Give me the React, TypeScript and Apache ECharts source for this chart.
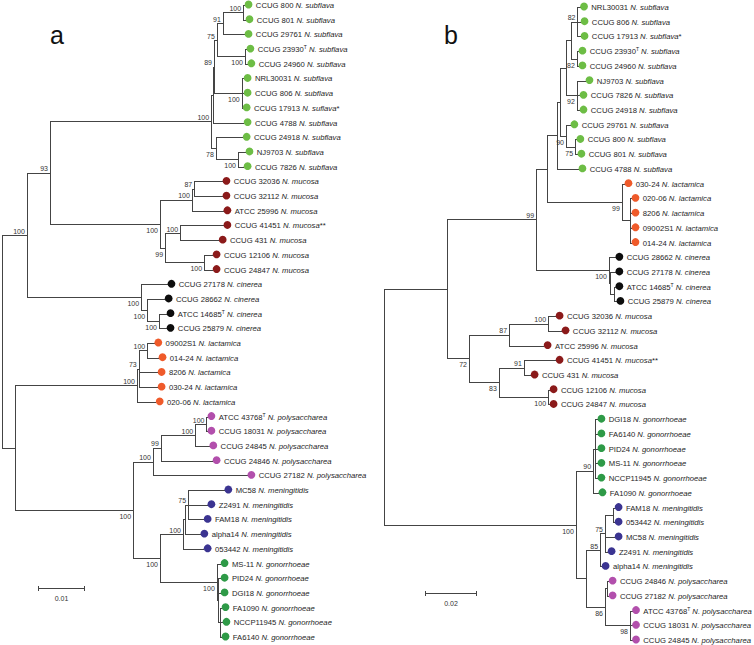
import { useEffect, useRef } from 'react';
import * as echarts from 'echarts';

// Branch depths are cumulative distances from the root, in substitutions per site x 10^-3
// (so the 0.01 scale bar of tree a has length 10, the 0.02 bar of tree b has length 20).
type Leaf = { kind: 'leaf'; strain: string; sp: string; d: number; typeStrain?: boolean; suffix?: string; spText?: string };
type Node = { kind: 'node'; d: number; s: string; below: boolean; c: Tree[] };
type Tree = Leaf | Node;

const L = (strain: string, sp: string, d: number, opts: Partial<Leaf> = {}): Leaf => ({ kind: 'leaf', strain, sp, d, ...opts });
const N = (d: number, s: string, below: boolean, ...c: Tree[]): Node => ({ kind: 'node', d, s, below, c });

const speciesColors: Record<string, string> = {
  subflava: '#6dbd45',
  mucosa: '#8b1a1a',
  cinerea: '#0d0d0d',
  lactamica: '#ef5a2a',
  polysaccharea: '#b24fac',
  meningitidis: '#3b3491',
  gonorrhoeae: '#2e9a47',
};

// ---------- Tree a ----------
const subflavaA = N(44.5, '100', false,
  N(44.9, '', false,
    N(45.1, '89', false,
      N(45.7, '75', false,
        N(47.0, '91', false,
          N(51.3, '100', false, L('CCUG 800', 'subflava', 51.5), L('CCUG 801', 'subflava', 51.7)),
          L('CCUG 29761', 'subflava', 51.5)),
        N(51.7, '100', true, L('CCUG 23930', 'subflava', 51.9, { typeStrain: true }), L('CCUG 24960', 'subflava', 52.1))),
      N(51.0, '100', true, L('NRL30031', 'subflava', 51.3), L('CCUG 806', 'subflava', 51.3), L('CCUG 17913', 'subflava', 51.1, { spText: 'suflava', suffix: '*' }))),
    L('CCUG 4788', 'subflava', 51.3)),
  N(45.5, '78', true, L('CCUG 24918', 'subflava', 51.1),
    N(50.2, '100', true, L('NJ9703', 'subflava', 51.7), L('CCUG 7826', 'subflava', 51.3))));

const mucosaA = N(33.6, '100', true,
  N(40.4, '100', false,
    N(40.9, '87', false, L('CCUG 32036', 'mucosa', 46.8), L('CCUG 32112', 'mucosa', 46.8)),
    L('ATCC 25996', 'mucosa', 47.0)),
  N(34.7, '99', true,
    N(37.9, '100', false, L('CCUG 41451', 'mucosa', 47.0, { suffix: '**' }), L('CCUG 431', 'mucosa', 46.0)),
    N(43.0, '100', true, L('CCUG 12106', 'mucosa', 44.7), L('CCUG 24847', 'mucosa', 44.7))));

const cinereaA = N(29.6, '100', true,
  L('CCUG 27178', 'cinerea', 35.1),
  N(30.9, '100', true, L('CCUG 28662', 'cinerea', 34.5),
    N(33.4, '100', true, L('ATCC 14685', 'cinerea', 34.9, { typeStrain: true }), L('CCUG 25879', 'cinerea', 34.9))));

const lactamicaA = N(28.7, '100', false,
  N(29.1, '73', false,
    N(30.9, '100', false, L('09002S1', 'lactamica', 32.3), L('014-24', 'lactamica', 33.2)),
    L('8206', 'lactamica', 33.0),
    L('030-24', 'lactamica', 33.0)),
  L('020-06', 'lactamica', 32.6));

const polysacchareaA = N(32.1, '100', false,
  N(33.8, '99', false,
    N(41.1, '100', false,
      N(43.5, '100', false, L('ATCC 43768', 'polysaccharea', 43.6, { typeStrain: true }), L('CCUG 18031', 'polysaccharea', 43.6)),
      L('CCUG 24845', 'polysaccharea', 44.0)),
    L('CCUG 24846', 'polysaccharea', 44.7)),
  L('CCUG 27182', 'polysaccharea', 52.1));

const meningitidisA = N(38.5, '100', false,
  N(38.9, '', false,
    N(39.6, '75', false, L('MC58', 'meningitidis', 47.2), L('Z2491', 'meningitidis', 43.6), L('FAM18', 'meningitidis', 42.8)),
    L('alpha14', 'meningitidis', 42.1)),
  L('053442', 'meningitidis', 42.8));

const gonorrhoeaeA = N(45.7, '100', true,
  L('MS-11', 'gonorrhoeae', 46.4),
  N(46.0, '', false, L('PID24', 'gonorrhoeae', 46.4), L('DGI18', 'gonorrhoeae', 46.4),
    N(46.3, '', false, L('FA1090', 'gonorrhoeae', 46.6), L('NCCP11945', 'gonorrhoeae', 46.8), L('FA6140', 'gonorrhoeae', 46.6))));

const treeA = N(0, '', false,
  N(5.3, '100', false, N(10.2, '93', false, subflavaA, mucosaA), cinereaA),
  N(2.8, '', false, lactamicaA, N(27.9, '100', true, polysacchareaA, N(33.6, '100', true, meningitidisA, gonorrhoeaeA))));

// ---------- Tree b ----------
const subflavaB = N(66.5, '', false,
  N(67.7, '', false,
    N(70.0, '', false,
      N(71.9, '', false,
        N(74.4, '82', false, L('NRL30031', 'subflava', 75.2), L('CCUG 806', 'subflava', 75.4), L('CCUG 17913', 'subflava', 75.4, { suffix: '*' })),
        N(74.2, '82', true, L('CCUG 23930', 'subflava', 74.6, { typeStrain: true }), L('CCUG 24960', 'subflava', 74.6))),
      N(74.2, '92', true, L('NJ9703', 'subflava', 77.3), L('CCUG 7826', 'subflava', 75.0), L('CCUG 24918', 'subflava', 75.0))),
    N(70.0, '90', true, L('CCUG 29761', 'subflava', 71.5),
      N(73.5, '75', true, L('CCUG 800', 'subflava', 73.8), L('CCUG 801', 'subflava', 74.2)))),
  L('CCUG 4788', 'subflava', 74.6));

const lactamicaB = N(91.5, '99', true, L('030-24', 'lactamica', 92.3),
  N(94.6, '', false, L('020-06', 'lactamica', 95.0), L('8206', 'lactamica', 95.0), L('09002S1', 'lactamica', 95.0), L('014-24', 'lactamica', 95.0)));

const cinereaB = N(86.5, '100', true, L('CCUG 28662', 'cinerea', 88.8),
  N(86.9, '', false, L('CCUG 27178', 'cinerea', 88.8),
    N(88.5, '', false, L('ATCC 14685', 'cinerea', 88.8, { typeStrain: true }), L('CCUG 25879', 'cinerea', 89.2))));

const mucosaB = N(32.7, '72', true,
  N(48.1, '87', false,
    N(63.1, '100', false, L('CCUG 32036', 'mucosa', 65.8), L('CCUG 32112', 'mucosa', 68.1)),
    L('ATCC 25996', 'mucosa', 61.2)),
  N(44.2, '83', true,
    N(53.8, '91', false, L('CCUG 41451', 'mucosa', 65.8, { suffix: '**' }), L('CCUG 431', 'mucosa', 56.2)),
    N(63.1, '100', true, L('CCUG 12106', 'mucosa', 63.5), L('CCUG 24847', 'mucosa', 63.5))));

const gonorrhoeaeB = N(80.4, '90', false,
  N(81.2, '', false, L('DGI18', 'gonorrhoeae', 81.9), L('FA6140', 'gonorrhoeae', 81.9), L('PID24', 'gonorrhoeae', 81.9),
    L('MS-11', 'gonorrhoeae', 81.9), L('NCCP11945', 'gonorrhoeae', 81.9)),
  L('FA1090', 'gonorrhoeae', 82.3));

const meningitidisB = N(83.1, '85', false,
  N(85.0, '75', false,
    N(88.1, '', false, L('FAM18', 'meningitidis', 88.5), L('053442', 'meningitidis', 88.5)),
    L('MC58', 'meningitidis', 88.5), L('Z2491', 'meningitidis', 85.8)),
  L('alpha14', 'meningitidis', 83.5));

const polysacchareaB = N(85.0, '86', true,
  N(85.8, '', false, L('CCUG 24846', 'polysaccharea', 86.2), L('CCUG 27182', 'polysaccharea', 86.2)),
  N(94.6, '98', true, L('ATCC 43768', 'polysaccharea', 95.2, { typeStrain: true }), L('CCUG 18031', 'polysaccharea', 95.2), L('CCUG 24845', 'polysaccharea', 95.2)));

const treeB = N(0, '', false,
  N(24.2, '', false, N(58.5, '99', false, N(62.7, '', false, subflavaB, lactamicaB), cinereaB), mucosaB),
  N(73.8, '100', true, gonorrhoeaeB, N(77.7, '', false, meningitidisB, polysacchareaB)));

const scaleBarLengths = [10, 20];
const scaleBarLabels = ['0.01', '0.02'];
const panelLetters = ['a', 'b'];

// ---------- layout ----------
type Out = { segs: number[][]; leaves: number[][]; leafInfo: Leaf[]; supports: (number | string)[][] };

function layout(t: Tree, parentD: number | null, out: Out): number {
  if (t.kind === 'leaf') {
    const y = out.leaves.length;
    out.leaves.push([t.d, y]);
    out.leafInfo.push(t);
    if (parentD !== null) out.segs.push([parentD, y, t.d, y]);
    return y;
  }
  const ys = t.c.map((ch) => layout(ch, t.d, out));
  const y = (ys[0] + ys[ys.length - 1]) / 2;
  out.segs.push([t.d, ys[0], t.d, ys[ys.length - 1]]);
  if (parentD !== null) out.segs.push([parentD, y, t.d, y]);
  if (t.s) out.supports.push([t.d, y, t.s, t.below ? 1 : 0]);
  return y;
}

const FONT = "'Liberation Sans', Arial, Helvetica, sans-serif";
const LEAF_FS = 7.7;
const snap = (v: number) => Math.round(v) + 0.5;

function labelText(l: Leaf): string {
  const t = l.typeStrain ? '{t|T}' : '';
  return `{n|${l.strain}}${t}{n| }{i|N. ${l.spText ?? l.sp}}${l.suffix ? `{n|${l.suffix}}` : ''}`;
}

const richStyles = {
  n: { fontSize: LEAF_FS, fontFamily: FONT, fill: '#1e1e1e', lineHeight: 10 },
  i: { fontSize: LEAF_FS, fontFamily: FONT, fontStyle: 'italic', fill: '#1e1e1e', lineHeight: 10 },
  t: { fontSize: 5, fontFamily: FONT, fill: '#1e1e1e', lineHeight: 6, verticalAlign: 'top' },
};

function panelSeries(tree: Node, gi: number, barPx: number[]): any[] {
  const out: Out = { segs: [], leaves: [], leafInfo: [], supports: [] };
  layout(tree, null, out);
  return [
    {
      type: 'custom', xAxisIndex: gi, yAxisIndex: gi, clip: false, silent: true,
      data: out.segs, encode: { x: [0, 2], y: [1, 3] },
      renderItem: (_p: any, api: any) => {
        const a = api.coord([api.value(0), api.value(1)]);
        const b = api.coord([api.value(2), api.value(3)]);
        return {
          type: 'line',
          shape: { x1: snap(a[0]), y1: snap(a[1]), x2: snap(b[0]), y2: snap(b[1]) },
          style: { stroke: '#444', lineWidth: 1, lineCap: 'square' },
        };
      },
    },
    {
      type: 'custom', xAxisIndex: gi, yAxisIndex: gi, clip: false, silent: true,
      data: out.leaves, encode: { x: 0, y: 1 },
      renderItem: (p: any, api: any) => {
        const info = out.leafInfo[p.dataIndex];
        const c = api.coord([api.value(0), api.value(1)]);
        return {
          type: 'group',
          children: [
            { type: 'circle', shape: { cx: c[0] + 4.5, cy: c[1] - 0.5, r: 3.9 }, style: { fill: speciesColors[info.sp] } },
            {
              type: 'text', x: c[0] + 11.8, y: c[1] + 0.5,
              style: { text: labelText(info), rich: richStyles, fontSize: LEAF_FS, fontFamily: FONT, fill: '#1e1e1e', align: 'left', verticalAlign: 'middle' },
            },
          ],
        };
      },
    },
    {
      type: 'custom', xAxisIndex: gi, yAxisIndex: gi, clip: false, silent: true,
      data: out.supports, encode: { x: 0, y: 1 },
      renderItem: (p: any, api: any) => {
        const row = out.supports[p.dataIndex];
        const c = api.coord([row[0] as number, row[1] as number]);
        const below = row[3] === 1;
        return {
          type: 'text', x: c[0] - 2, y: c[1] + (below ? 6.5 : -3.8),
          style: { text: String(row[2]), fontSize: 7, fontFamily: FONT, fill: '#333', align: 'right', verticalAlign: 'middle' },
        };
      },
    },
    {
      type: 'custom', xAxisIndex: gi, yAxisIndex: gi, clip: false, silent: true,
      data: [[0, 0]], encode: { x: 0, y: 1 },
      renderItem: (_p: any, api: any) => {
        const len = api.size([scaleBarLengths[gi], 0])[0];
        const x0 = barPx[0], y0 = barPx[1];
        return {
          type: 'group',
          children: [
            { type: 'line', shape: { x1: x0, y1: y0, x2: x0 + len, y2: y0 }, style: { stroke: '#444', lineWidth: 1 } },
            { type: 'line', shape: { x1: x0 + 0.5, y1: y0 - 2.5, x2: x0 + 0.5, y2: y0 + 2.5 }, style: { stroke: '#444', lineWidth: 1 } },
            { type: 'line', shape: { x1: x0 + len - 0.5, y1: y0 - 2.5, x2: x0 + len - 0.5, y2: y0 + 2.5 }, style: { stroke: '#444', lineWidth: 1 } },
            {
              type: 'text', x: x0 + len / 2, y: y0 + 9.5,
              style: { text: scaleBarLabels[gi], fontSize: 7, fontFamily: FONT, fill: '#333', align: 'center', verticalAlign: 'middle' },
            },
          ],
        };
      },
    },
  ];
}

export default function App() {
  const ref = useRef<HTMLDivElement>(null);
  useEffect(() => {
    if (!ref.current) return;
    const chart = echarts.init(ref.current, undefined, { renderer: 'svg' });
    const pxPerUnitA = 4.7; // 0.01 -> 47 px
    const pxPerUnitB = 2.6; // 0.02 -> 52 px
    chart.setOption({
      animation: false,
      backgroundColor: '#ffffff',
      grid: [
        { left: 2, top: 5, width: 375, height: 632 },
        { left: 384, top: 7, width: 370, height: 633 },
      ],
      xAxis: [
        { type: 'value', gridIndex: 0, min: 0, max: 375 / pxPerUnitA, show: false },
        { type: 'value', gridIndex: 1, min: 0, max: 370 / pxPerUnitB, show: false },
      ],
      yAxis: [
        { type: 'value', gridIndex: 0, min: 0, max: 43, inverse: true, show: false },
        { type: 'value', gridIndex: 1, min: 0, max: 43, inverse: true, show: false },
      ],
      graphic: [
        { type: 'text', left: 50, top: 22, style: { text: panelLetters[0], fontSize: 25, fontFamily: FONT, fill: '#111' } },
        { type: 'text', left: 444, top: 22, style: { text: panelLetters[1], fontSize: 25, fontFamily: FONT, fill: '#111' } },
      ],
      series: [...panelSeries(treeA, 0, [38, 588.5]), ...panelSeries(treeB, 1, [425, 593.5])],
    });
    return () => chart.dispose();
  }, []);
  return <div ref={ref} style={{ position: 'fixed', left: 0, top: 0, width: 754, height: 645, background: '#fff' }} />;
}
